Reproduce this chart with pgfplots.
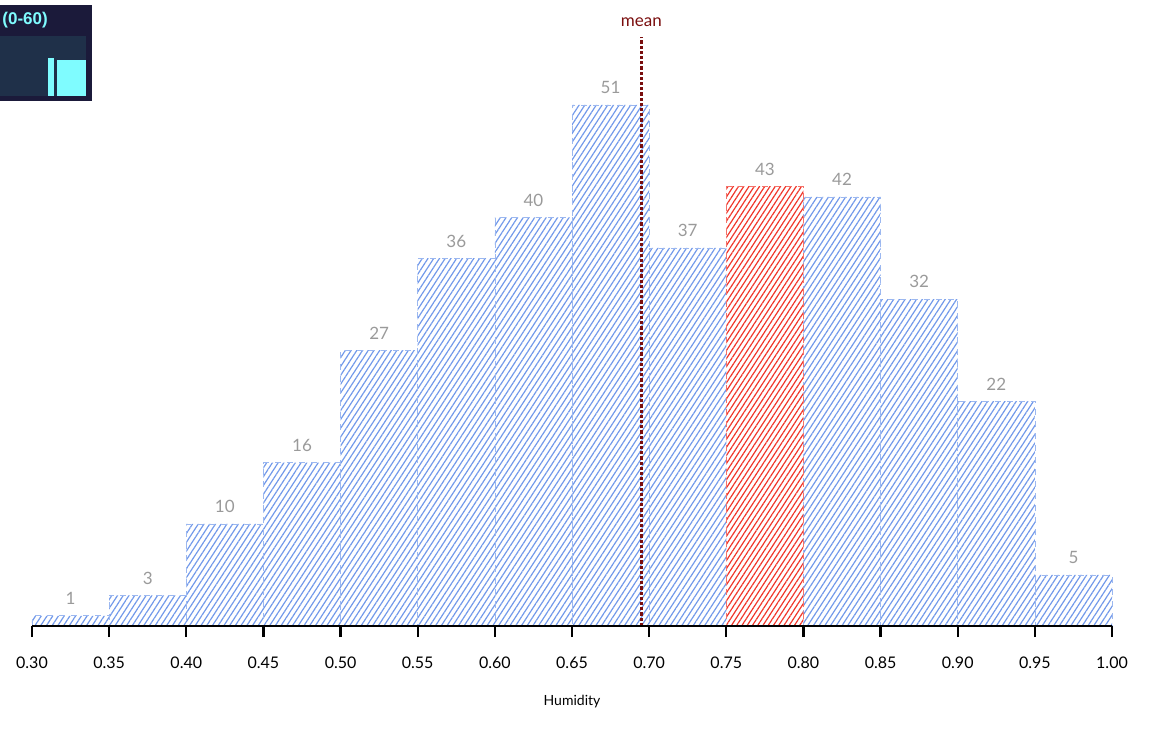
\documentclass[border=0pt]{standalone}
\usepackage{fontspec}
\setmainfont{Lato}
\newfontfamily\arialfont{Liberation Sans}
\usepackage{pgfplots}
\pgfplotsset{compat=1.18}
\usetikzlibrary{patterns.meta}
\definecolor{barblue}{HTML}{7299EA}
\definecolor{barred}{HTML}{F0362A}
\definecolor{meanred}{HTML}{7A0E0E}
\definecolor{lblgray}{HTML}{9A9A9A}
\definecolor{navy}{HTML}{1B1A3A}
\definecolor{innerblue}{HTML}{1F3049}
\definecolor{cyanbar}{HTML}{7FFCFF}
\begin{document}
\begin{tikzpicture}
\useasboundingbox (0,0) rectangle (588pt,375pt);
% main histogram
\begin{axis}[
  at={(16pt,62pt)}, anchor=south west,
  scale only axis, width=540pt, height=306.5pt,
  xmin=0.3, xmax=1.0, ymin=0, ymax=60,
  clip=false,
  axis on top,
  axis y line=none,
  axis x line*=bottom,
  x axis line style={-, line width=1.1pt},
  xtick={0.30,0.35,...,1.001},
  tick align=outside,
  major tick length=5.5pt,
  xtick style={line width=1.1pt, black},
  xticklabel style={font=\fontsize{8}{9}\selectfont, yshift=-6.5pt,
    /pgf/number format/.cd, fixed, fixed zerofill, precision=2, assume math mode=true},
  xlabel={Humidity},
  every axis x label/.style={at={(axis description cs:0.5,0)}, anchor=center, yshift=-38pt, font=\fontsize{7}{8}\selectfont},
  ybar, bar width=0.05, bar shift=0pt,
  nodes near coords,
  every node near coord/.append style={font=\fontsize{8.5}{9}\selectfont, text=lblgray, anchor=south, yshift=2pt,
    /pgf/number format/assume math mode=true},
]
\addplot[draw=barblue!70, dashed, line width=0.3pt,
  pattern={Lines[angle=57, distance=2.4pt, line width=0.6pt]}, pattern color=barblue]
  coordinates {
  (0.325,1) (0.375,3) (0.425,10) (0.475,16) (0.525,27) (0.575,36) (0.625,40)
  (0.675,51) (0.725,37) (0.825,42) (0.875,32) (0.925,22) (0.975,5)};
\addplot[draw=barred!70, dashed, line width=0.3pt,
  pattern={Lines[angle=57, distance=2.2pt, line width=0.6pt]}, pattern color=barred]
  coordinates {(0.775,43)};
\addplot[ybar=false, sharp plot, no markers, nodes near coords=, meanred, line width=1.3pt, dash pattern=on 1.6pt off 1pt]
  coordinates {(0.695,0) (0.695,57.7)};
\node[text=meanred, font=\fontsize{8.5}{10}\selectfont, anchor=south] at (axis cs:0.695,58.0) {mean};
\end{axis}
% inset (minimap)
\fill[navy] (0pt,324.5pt) rectangle (46pt,372.5pt);
\node[anchor=west, text=cyanbar, font=\arialfont\bfseries\fontsize{8.5}{10}\selectfont, inner sep=0pt] at (1pt,365pt) {(0-60)};
\begin{axis}[
  at={(0pt,327pt)}, anchor=south west,
  scale only axis, width=43pt, height=30pt,
  xmin=0, xmax=86, ymin=0, ymax=60,
  hide axis,
  axis background/.style={fill=innerblue},
  ybar, bar shift=0pt,
]
\addplot[fill=cyanbar, draw=none, bar width=6] coordinates {(51,37.5)};
\addplot[fill=cyanbar, draw=none, bar width=29] coordinates {(71.5,36)};
\end{axis}
\end{tikzpicture}
\end{document}
